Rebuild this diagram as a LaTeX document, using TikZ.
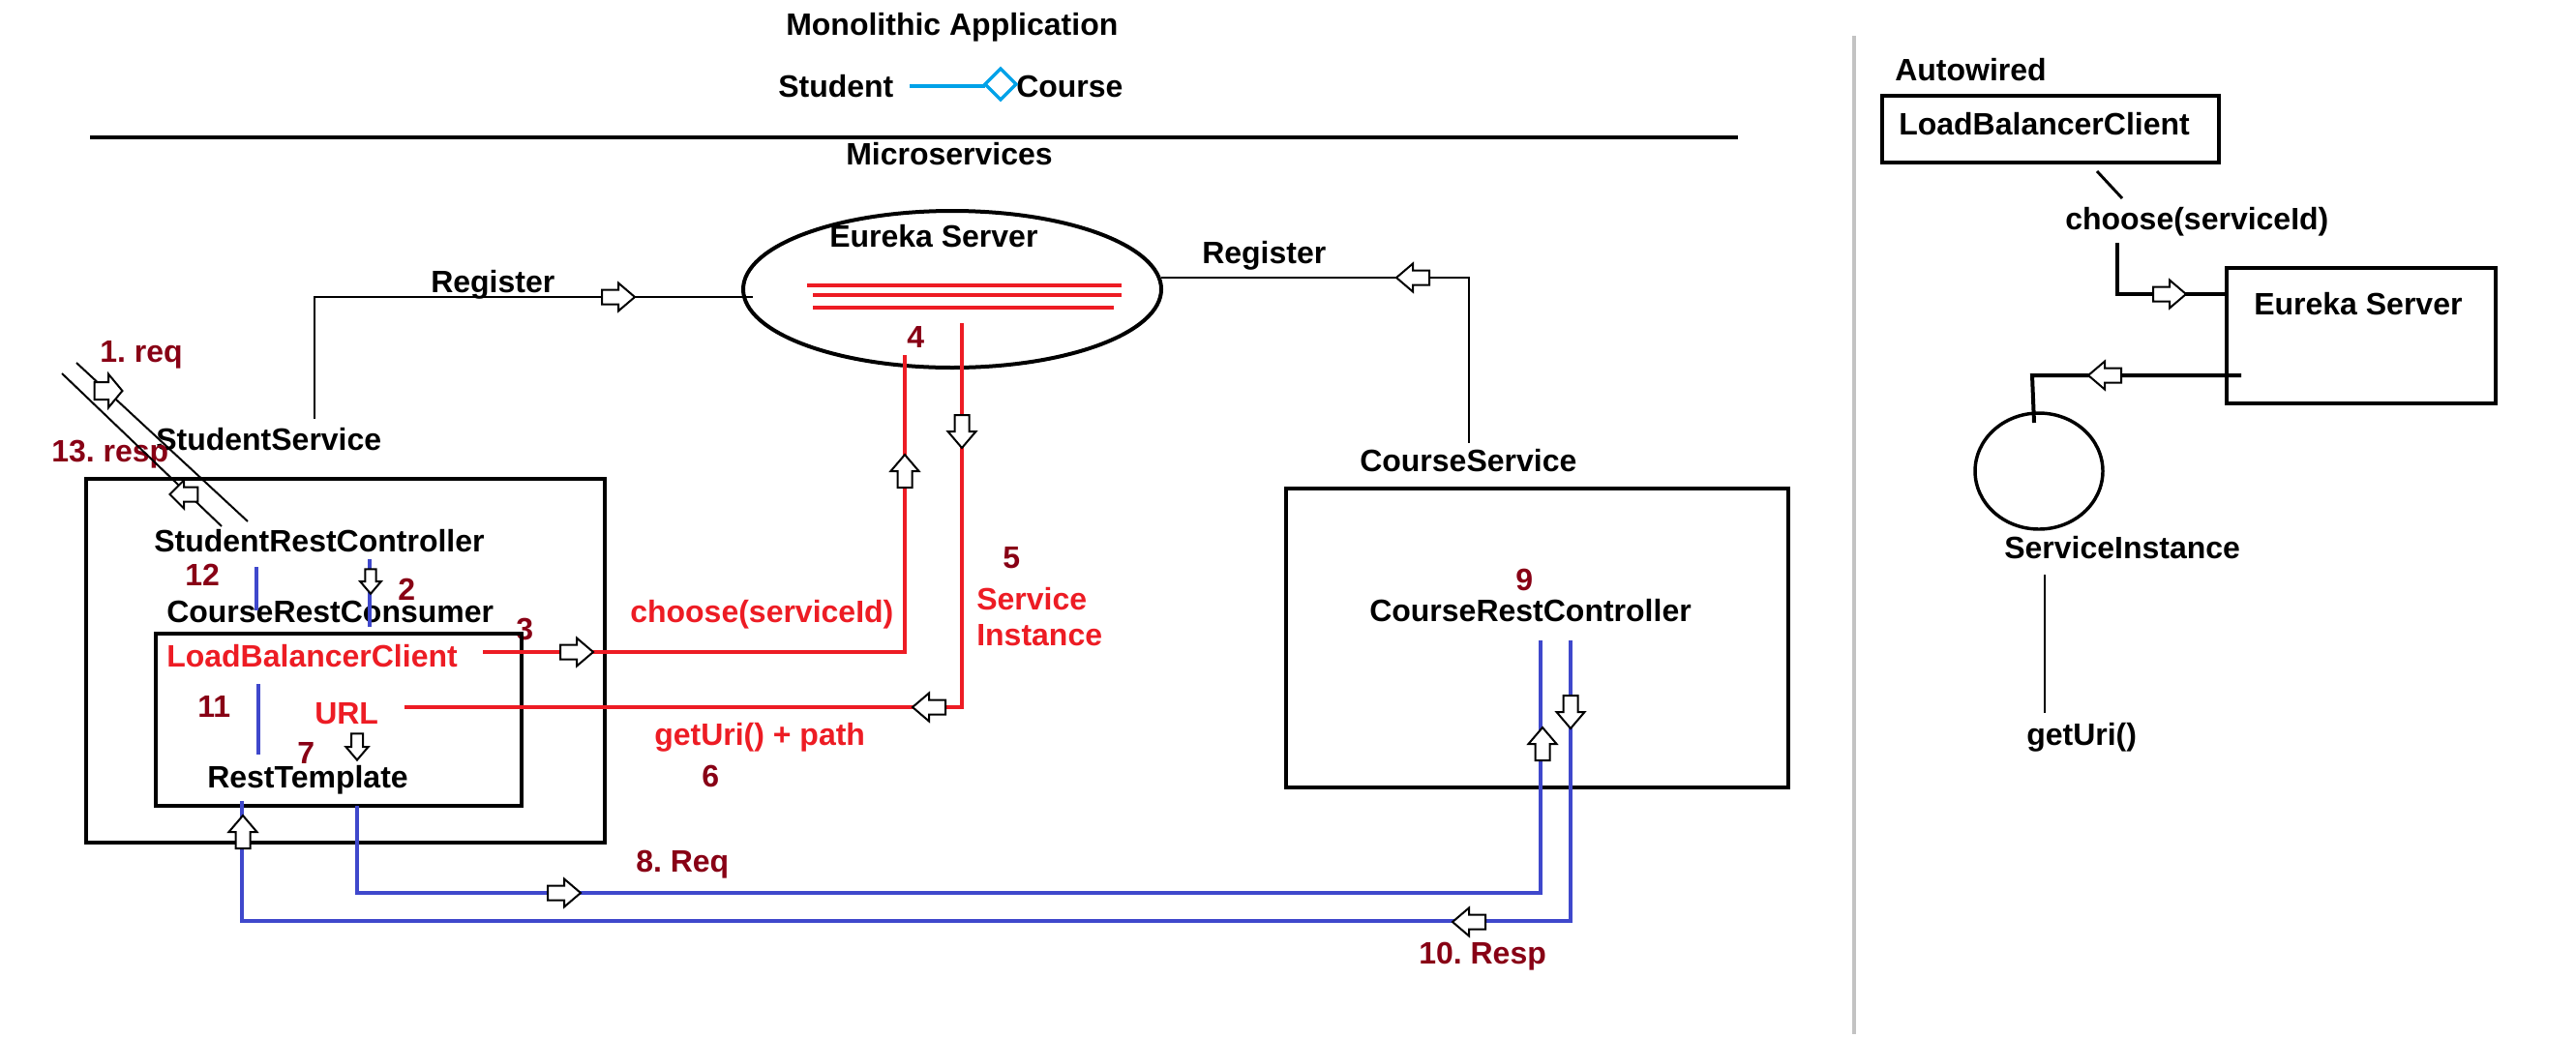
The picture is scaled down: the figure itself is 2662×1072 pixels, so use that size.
\documentclass[tikz,border=0pt]{standalone}
\usepackage{fontspec}
\setmainfont{Liberation Sans}
\usetikzlibrary{shapes.geometric}
\definecolor{pred}{RGB}{237,28,36}
\definecolor{dred}{RGB}{136,0,21}
\definecolor{pblue}{RGB}{63,72,204}
\definecolor{pcyan}{RGB}{0,162,232}
\definecolor{pgray}{RGB}{195,195,195}
\frenchspacing
\begin{document}
\begin{tikzpicture}[x=0.75pt,y=-0.75pt,
  lbl/.style={font=\fontsize{24}{28}\selectfont\bfseries, inner sep=0pt, anchor=base west, text=black},
  rlbl/.style={lbl,text=pred},
  dlbl/.style={lbl,text=dred},
  thinline/.style={line width=1.6pt,black},
  redline/.style={line width=2.6pt,pred},
  blueline/.style={line width=2.6pt,pblue},
  barrow/.pic={\draw[draw=black,fill=white,line width=1.5pt,line join=miter] (-17,-7.5) -- (0,-7.5) -- (0,-14.5) -- (17,0) -- (0,14.5) -- (0,7.5) -- (-17,7.5) -- cycle;}
]
\fill[white] (0,0) rectangle (2662,1072);
\useasboundingbox (0,0) rectangle (2662,1072);

% ---------- top: monolithic ----------
\node[lbl] (mono) at (812,36) {Monolithic Application};
\node[lbl] (stud) at (804,100) {Student};
\node[lbl] (course) at (1050,100) {Course};
\coordinate (dia) at (1018,89);
\draw[line width=3pt,pcyan] (940,89) -- (dia);
\draw[line width=2.6pt,pcyan,fill=white] (1018,87) -- (1034,71) -- (1050,87) -- (1034,103) -- cycle;
\draw[line width=3.2pt] (93,142) -- (1796,142);
\node[lbl] (micro) at (874,170) {Microservices};

% ---------- separator ----------
\draw[line width=3pt,pgray] (1916,37) -- (1916,1069);

% ---------- Eureka ----------
\node[draw,ellipse,line width=3pt,minimum width=324pt,minimum height=121.5pt,inner sep=0pt] (eureka) at (984,299) {};
\node[lbl] (eurekaT) at (857,255) {Eureka Server};
\draw[line width=3.2pt,pred] (834,295) -- (1159,295);
\draw[line width=3.2pt,pred] (840,305) -- (1159,305);
\draw[line width=3.2pt,pred] (840,318) -- (1151,318);
\node[dlbl] (n4) at (937,359) {4};

% ---------- Register lines ----------
\node[lbl] (regL) at (445,302) {Register};
\node[lbl] (regR) at (1242,272) {Register};
\coordinate (ssTop) at (325,433);
\coordinate (eurL) at (778,307);
\draw[thinline] (ssTop) |- (eurL);
\pic at (639,307) {barrow};
\coordinate (eurR) at (1200,287);
\coordinate (csTop) at (1518,458);
\draw[thinline] (eurR) -| (csTop);
\pic[rotate=180] at (1460,287) {barrow};

% ---------- Student service ----------
\node[dlbl] (req1) at (103,374) {1. req};
\node[lbl] (ssT) at (161,465) {StudentService};
\node[dlbl] (resp13) at (53,477) {13. resp};
\coordinate (d1a) at (64,386); \coordinate (d1b) at (229,544);
\coordinate (d2a) at (79,375); \coordinate (d2b) at (256,539);
\draw[line width=1.5pt] (d1a) -- (d1b);
\draw[line width=1.5pt] (d2a) -- (d2b);
\pic[yscale=1.2,xscale=0.85] at (112,404) {barrow};
\pic[rotate=180,xscale=0.85] at (190,511) {barrow};
\draw[line width=3.6pt] (89,495) rectangle (625,871);
\node[lbl] (src) at (159,570) {StudentRestController};
\node[dlbl] (n12) at (191,605) {12};
\node[dlbl] (n2) at (411,620) {2};
\node[lbl] (crc) at (172,643) {CourseRestConsumer};
\node[dlbl] (n3) at (533,661) {3};
\draw[line width=2.4pt] (161,655) rectangle (539,833);
\node[rlbl] (lbc) at (172,689) {LoadBalancerClient};
\node[dlbl] (n11) at (204,741) {11};
\node[rlbl] (url) at (325,748) {URL};
\node[dlbl] (n7) at (307,789) {7};
\node[lbl] (rt) at (214,814) {RestTemplate};
\draw[blueline] (265,586) -- (265,631);
\draw[blueline] (382,578) -- (382,648);
\pic[rotate=-90,scale=0.75] at (383,601) {barrow};
\draw[blueline] (267,707) -- (267,780);
\pic[rotate=-90,scale=0.8] at (369,772) {barrow};

% ---------- red choose / URL ----------
\node[rlbl] (chooseR) at (651,643) {choose(serviceId)};
\node[dlbl] (n5) at (1036,587) {5};
\node[rlbl] (svc) at (1009,630) {Service};
\node[rlbl] (inst) at (1009,667) {Instance};
\node[rlbl] (geturi) at (676,770) {getUri() + path};
\node[dlbl] (n6) at (725,813) {6};
\coordinate (lbcR) at (499,674);
\coordinate (eurB1) at (935,367);
\draw[redline] (lbcR) -| (eurB1);
\pic at (596,674) {barrow};
\pic[rotate=90] at (935,487) {barrow};
\coordinate (eurB2) at (994,334);
\coordinate (urlR) at (418,731);
\draw[redline] (eurB2) |- (urlR);
\pic[rotate=-90] at (994,446) {barrow};
\pic[rotate=180] at (960,731) {barrow};

% ---------- Course service ----------
\node[lbl] (csT) at (1405,487) {CourseService};
\draw[line width=3.6pt] (1329,505) rectangle (1848,814);
\node[dlbl] (n9) at (1566,610) {9};
\node[lbl] (crctl) at (1415,642) {CourseRestController};

% ---------- blue req / resp ----------
\node[dlbl] (req8) at (657,901) {8. Req};
\node[dlbl] (resp10) at (1466,996) {10. Resp};
\coordinate (rtB1) at (369,833);
\coordinate (rtB2) at (250,828);
\coordinate (crcA) at (1592,662);
\coordinate (crcB) at (1623,662);
\draw[blueline,line width=3pt] (rtB1) |- (1592,923) -- (crcA);
\draw[blueline,line width=3pt] (rtB2) |- (1623,952) -- (crcB);
\pic at (583,923) {barrow};
\pic[rotate=90] at (1594,769) {barrow};
\pic[rotate=90] at (251,860) {barrow};
\pic[rotate=-90] at (1623,736) {barrow};
\pic[rotate=180] at (1518,953) {barrow};

% ---------- right panel ----------
\node[lbl] (autow) at (1958,83) {Autowired};
\draw[line width=3pt] (1945,99) rectangle (2293,168);
\node[lbl] (lbc2) at (1962,139) {LoadBalancerClient};
\draw[line width=2.2pt] (2167,177) -- (2193,205);
\node[lbl] (choose2) at (2134,237) {choose(serviceId)};
\draw[line width=3pt] (2301,277) rectangle (2579,417);
\node[lbl] (eur2) at (2329,325) {Eureka Server};
\coordinate (ch2) at (2188,251);
\coordinate (eur2L) at (2301,304);
\draw[line width=3pt] (ch2) |- (eur2L);
\pic at (2242,304) {barrow};
\coordinate (eur2B) at (2316,388);
\coordinate (si) at (2102,437);
\draw[line width=3pt] (eur2B) -- (2100,388) -- (si);
\pic[rotate=180] at (2175,388) {barrow};
\draw[line width=2.6pt] (2107,487) ellipse [x radius=66, y radius=60];
\node[lbl] (siT) at (2071,577) {ServiceInstance};
\draw[line width=2.2pt] (2113,594) -- (2113,737);
\node[lbl] (geturi2) at (2094,770) {getUri()};
\end{tikzpicture}
\end{document}
